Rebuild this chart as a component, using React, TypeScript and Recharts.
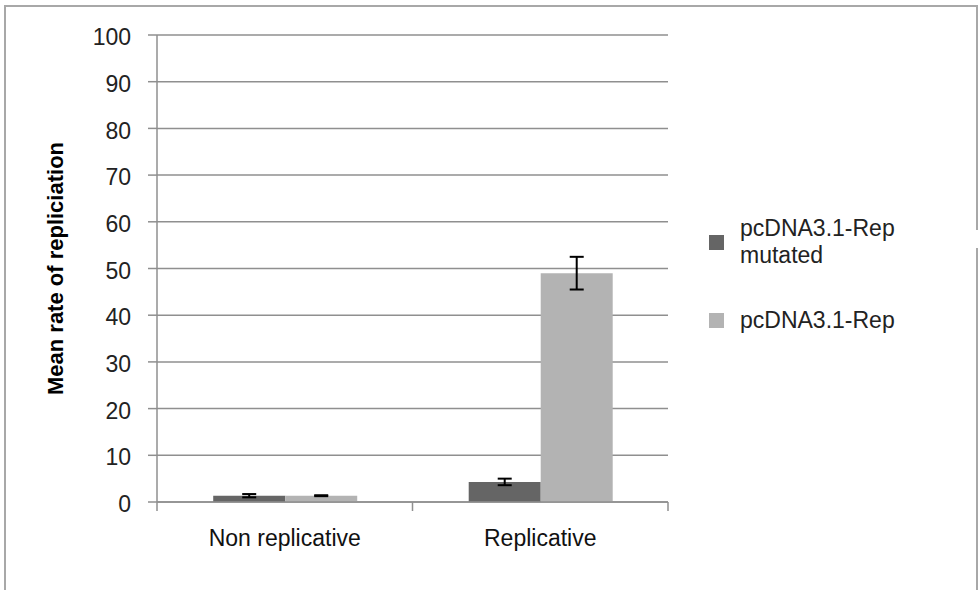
import React from "react";
import {
  BarChart,
  Bar,
  XAxis,
  YAxis,
  CartesianGrid,
  ErrorBar,
} from "recharts";

const categories = ["Non replicative", "Replicative"];
const mutatedValues = [1.35, 4.3];
const mutatedErrors = [0.35, 0.7];
const repValues = [1.35, 49];
const repErrors = [0.1, 3.5];
const yTicks = [0, 10, 20, 30, 40, 50, 60, 70, 80, 90, 100];

const series = [
  { key: "mutated", err: "mutatedErr", name: "pcDNA3.1-Rep mutated", color: "#656565" },
  { key: "rep", err: "repErr", name: "pcDNA3.1-Rep", color: "#b3b3b3" },
];

const data = categories.map((c, i) => ({
  name: c,
  mutated: mutatedValues[i],
  mutatedErr: mutatedErrors[i],
  rep: repValues[i],
  repErr: repErrors[i],
}));

const W = 978;
const H = 590;
const margin = { top: 35, right: 310, bottom: 48, left: 0 };
const yAxisWidth = 157;
const xAxisHeight = 40;
const tickSize = 9;
const tickMargin = 19;
const axisColor = "#8f8f8f";
const font = "'Liberation Sans', Arial, sans-serif";

const plotWidth = W - margin.left - margin.right - yAxisWidth;
const halfBand = plotWidth / categories.length / 2;

function CategoryTick(props: any) {
  const { x, y, payload, index } = props;
  const axisY = y - tickSize - tickMargin;
  const last = index === categories.length - 1;
  return (
    <g>
      <line x1={x - halfBand} x2={x - halfBand} y1={axisY} y2={axisY + tickSize} stroke={axisColor} strokeWidth={1.5} />
      {last && (
        <line x1={x + halfBand} x2={x + halfBand} y1={axisY} y2={axisY + tickSize} stroke={axisColor} strokeWidth={1.5} />
      )}
      <text x={x} y={y} dy="0.71em" textAnchor="middle" fontSize={23} fill="#111">
        {payload.value}
      </text>
    </g>
  );
}

function LegendBox() {
  return (
    <div style={{ position: "absolute", left: 709, top: 215, width: 260, fontFamily: font, fontSize: 23, color: "#222" }}>
      {series.map((s) => (
        <div key={s.key} style={{ display: "flex", alignItems: "center", marginBottom: 38 }}>
          <span style={{ width: 15, height: 15, background: s.color, flex: "none", marginRight: 16 }} />
          <span style={{ width: 180, lineHeight: "27px" }}>{s.name}</span>
        </div>
      ))}
    </div>
  );
}

export default function App() {
  return (
    <div style={{ position: "fixed", left: 0, top: 0, width: W, height: H, background: "#fff", overflow: "hidden", fontFamily: font }}>
      <div style={{ position: "absolute", left: 4, top: 5, width: 974, height: 640, boxSizing: "border-box", border: "2px solid #a8a8a8" }} />
      <div style={{ position: "absolute", left: 973, top: 230, width: 5, height: 18, background: "#fff" }} />
      <div style={{ position: "absolute", left: 0, top: 0 }}>
        <BarChart width={W} height={H} data={data} margin={margin} barCategoryGap="22%" barGap={0}>
          <CartesianGrid vertical={false} stroke={axisColor} strokeWidth={1.5} />
          <XAxis
            dataKey="name"
            height={xAxisHeight}
            tickLine={false}
            tickSize={tickSize}
            tickMargin={tickMargin}
            axisLine={{ stroke: axisColor, strokeWidth: 1.5 }}
            tick={<CategoryTick />}
            interval={0}
          />
          <YAxis
            width={yAxisWidth}
            domain={[0, 100]}
            ticks={yTicks}
            interval={0}
            tickSize={tickSize}
            tickMargin={17}
            tick={{ fontSize: 23, fill: "#222", dy: 2 }}
            tickLine={{ stroke: axisColor, strokeWidth: 1.5 }}
            axisLine={{ stroke: axisColor, strokeWidth: 1.5 }}
            label={{
              value: "Mean rate of repliciation",
              angle: -90,
              position: "insideLeft",
              offset: 55,
              style: { textAnchor: "middle", fontSize: 22, fontWeight: "bold", fill: "#000" },
            }}
          />
          {series.map((s) => (
            <Bar key={s.key} dataKey={s.key} name={s.name} fill={s.color} isAnimationActive={false}>
              <ErrorBar dataKey={s.err} width={7} stroke="#000" strokeWidth={2} isAnimationActive={false} />
            </Bar>
          ))}
        </BarChart>
      </div>
      <LegendBox />
    </div>
  );
}
